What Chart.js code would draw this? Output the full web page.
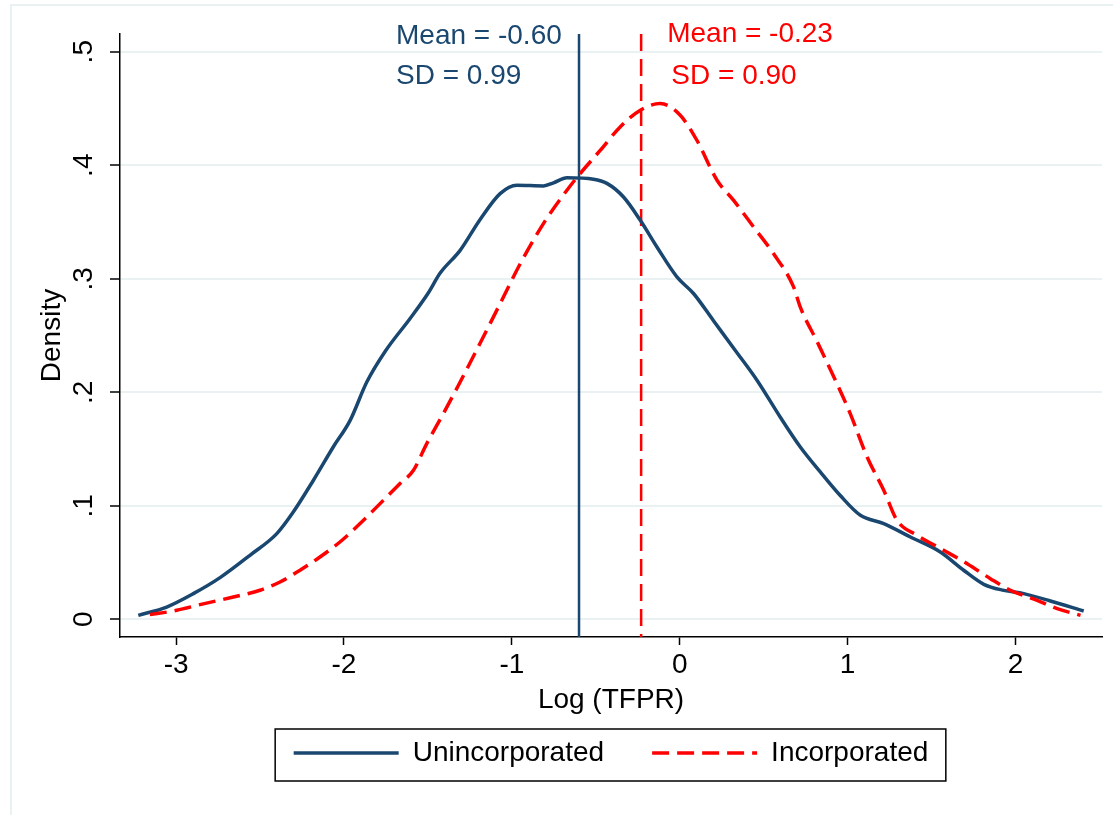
<!DOCTYPE html>
<html>
<head>
<meta charset="utf-8">
<script src="https://cdn.jsdelivr.net/npm/chart.js@4"></script>
<style>
  html, body { margin: 0; padding: 0; background: #fff; overflow: hidden; }
  #kdensity { position: absolute; left: 0; top: 0; }
  #frame {
    position: absolute; left: 10px; top: 4px; width: 1200px; height: 900px;
    border-left: 2px solid #e9f1f3; border-top: 2px solid #e9f1f3;
    pointer-events: none;
  }
</style>
</head>
<body>
<canvas id="kdensity" width="1113" height="815"></canvas>
<div id="frame"></div>
<script>
// kernel density of log TFPR
const unincX = [-3.225, -3.056, -2.897, -2.738, -2.56, -2.4, -2.302, -2.182, -2.063, -1.964,
  -1.864, -1.75, -1.606, -1.5, -1.427, -1.308, -1.19, -1.07, -0.97, -0.811,
  -0.752, -0.672, -0.514, -0.434, -0.335, -0.235, -0.136, -0.017, 0.082, 0.201,
  0.33, 0.46, 0.599, 0.718, 0.837, 0.956, 1.076, 1.215, 1.374, 1.552,
  1.691, 1.811, 1.93, 2.049, 2.208, 2.406];
const unincY = [0.0035, 0.0108, 0.0226, 0.0367, 0.0564, 0.0755, 0.0945, 0.1225, 0.152, 0.175,
  0.209, 0.237, 0.265, 0.287, 0.305, 0.325, 0.352, 0.375, 0.3824, 0.3818,
  0.3845, 0.389, 0.3877, 0.384, 0.372, 0.3515, 0.328, 0.3016, 0.287, 0.263,
  0.237, 0.2106, 0.178, 0.1518, 0.1298, 0.109, 0.0916, 0.0843, 0.0725, 0.0593,
  0.0432, 0.0308, 0.0255, 0.0226, 0.0161, 0.0073];

const incX = [-3.156, -2.996, -2.858, -2.659, -2.5, -2.381, -2.262, -2.143, -2.024, -1.904,
  -1.785, -1.666, -1.586, -1.507, -1.408, -1.318, -1.19, -1.07, -0.951, -0.812,
  -0.672, -0.593, -0.474, -0.355, -0.235, -0.116, 0.003, 0.102, 0.222, 0.321,
  0.44, 0.559, 0.678, 0.718, 0.82, 0.927, 1.016, 1.116, 1.215, 1.294,
  1.414, 1.572, 1.712, 1.85, 1.97, 2.129, 2.248, 2.387];
const incY = [0.0041, 0.0079, 0.0129, 0.0196, 0.0256, 0.0329, 0.0432, 0.0549, 0.0681, 0.0843,
  0.1019, 0.1196, 0.1313, 0.1548, 0.1812, 0.2062, 0.243, 0.278, 0.313, 0.3486,
  0.378, 0.3927, 0.413, 0.4337, 0.4485, 0.4543, 0.444, 0.422, 0.3868, 0.369,
  0.3456, 0.322, 0.2928, 0.275, 0.244, 0.2106, 0.181, 0.143, 0.1137, 0.0872,
  0.074, 0.0608, 0.049, 0.0358, 0.0255, 0.0167, 0.0094, 0.0035];

const seriesNames = ["Unincorporated", "Incorporated"];
const means = [-0.60, -0.23];

const xTicks = [-3, -2, -1, 0, 1, 2];
const yTicks = [0, 0.1, 0.2, 0.3, 0.4, 0.5];
const yTickLabels = ["0", ".1", ".2", ".3", ".4", ".5"];

// text notes placed in data units (left edge, baseline)
const noteText = ["Mean = -0.60", "SD = 0.99", "Mean = -0.23", "SD = 0.90"];
const noteX = [-1.69, -1.69, -0.075, -0.05];
const noteY = [0.5066, 0.4714, 0.5084, 0.4714];

const X_MIN = -3.334, X_MAX = 2.515;
const Y_MIN = -0.0156, Y_MAX = 0.5156;

const NAVY = "#1a476f";
const RED = "#ff0000";
const GRID = "#e9f1f3";
const FONT = "'Liberation Sans', Arial, Helvetica, sans-serif";
const noteColor = [NAVY, NAVY, RED, RED];

Chart.defaults.font.family = FONT;
Chart.defaults.font.size = 28;
Chart.defaults.color = "#000";

function toPoints(xs, ys) {
  return xs.map((x, i) => ({ x: x, y: ys[i] }));
}

const notesPlugin = {
  id: "notes",
  afterDatasetsDraw(chart) {
    const { ctx, scales } = chart;
    ctx.save();
    ctx.font = "28px " + FONT;
    ctx.textAlign = "left";
    ctx.textBaseline = "alphabetic";
    noteText.forEach((t, i) => {
      ctx.fillStyle = noteColor[i];
      ctx.fillText(t, scales.x.getPixelForValue(noteX[i]), scales.y.getPixelForValue(noteY[i]));
    });
    ctx.restore();
  },
};

// Stata puts a box round the legend; Chart.js does not
const legendFrame = {
  id: "legendFrame",
  afterDraw(chart) {
    const boxes = chart.legend.legendHitBoxes;
    if (!boxes || !boxes.length) return;
    const first = boxes[0];
    const last = boxes[boxes.length - 1];
    const ctx = chart.ctx;
    ctx.save();
    ctx.strokeStyle = "#000";
    ctx.lineWidth = 1.5;
    ctx.strokeRect(first.left - 18.5, first.top - 10,
      last.left + last.width - first.left + 36, first.height + 24);
    ctx.restore();
  },
};

// with usePointStyle the legend takes its style from the point, so put the line style back
function legendLabels(chart) {
  const items = Chart.defaults.plugins.legend.labels.generateLabels(chart);
  return items.map((item) => {
    const ds = chart.data.datasets[item.datasetIndex];
    item.lineDash = ds.borderDash || [];
    item.lineWidth = ds.borderWidth;
    item.strokeStyle = ds.borderColor;
    return item;
  });
}

new Chart(document.getElementById("kdensity"), {
  type: "line",
  data: {
    datasets: [
      {
        label: seriesNames[0],
        data: toPoints(unincX, unincY),
        borderColor: NAVY,
        borderWidth: 3.5,
        cubicInterpolationMode: "monotone",
        order: 2,
      },
      {
        label: seriesNames[1],
        data: toPoints(incX, incY),
        borderColor: RED,
        borderWidth: 3.5,
        borderDash: [17, 8],
        cubicInterpolationMode: "monotone",
        order: 1,
      },
      {
        label: "mean0",
        data: [{ x: means[0], y: Y_MAX }, { x: means[0], y: Y_MIN }],
        borderColor: NAVY,
        borderWidth: 2.5,
        order: 3,
      },
      {
        label: "mean1",
        data: [{ x: means[1], y: Y_MAX }, { x: means[1], y: Y_MIN }],
        borderColor: RED,
        borderWidth: 2.5,
        borderDash: [17, 8],
        order: 4,
      },
    ],
  },
  options: {
    responsive: false,
    animation: false,
    events: [],
    elements: {
      point: { radius: 0 },
      line: { tension: 0, fill: false },
    },
    layout: { padding: { top: 34, right: 11, bottom: 38, left: 0 } },
    scales: {
      x: {
        type: "linear",
        min: X_MIN,
        max: X_MAX,
        afterBuildTicks: (s) => { s.ticks = xTicks.map((v) => ({ value: v })); },
        afterFit: (s) => { s.height = 54; },
        grid: { drawOnChartArea: false, tickLength: 8, tickColor: "#000", tickWidth: 1.5 },
        border: { color: "#000", width: 1.5 },
        ticks: {
          autoSkip: false,
          maxRotation: 0,
          padding: 3,
          color: "#000",
          callback: (v) => String(v),
        },
        title: {
          display: true,
          text: "Log (TFPR)",
          color: "#000",
          padding: { top: 0, bottom: -26 },
        },
      },
      y: {
        type: "linear",
        min: Y_MIN,
        max: Y_MAX,
        afterBuildTicks: (s) => { s.ticks = yTicks.map((v) => ({ value: v })); },
        afterFit: (s) => { s.width = 120; },
        grid: { color: GRID, lineWidth: 2, tickLength: 10, tickColor: "#000", tickWidth: 1.5 },
        border: { color: "#000", width: 1.5 },
        ticks: {
          autoSkip: false,
          minRotation: 90,
          maxRotation: 90,
          crossAlign: "center",
          padding: 14,
          color: "#000",
          callback: (v, i) => yTickLabels[i],
        },
        title: {
          display: true,
          text: "Density",
          color: "#000",
          padding: { top: 35, bottom: 0 },
        },
      },
    },
    plugins: {
      tooltip: { enabled: false },
      legend: {
        position: "bottom",
        fullSize: false,
        labels: {
          generateLabels: legendLabels,
          filter: (item) => item.datasetIndex < 2,
          sort: (a, b) => a.datasetIndex - b.datasetIndex,
          usePointStyle: true,
          pointStyle: "line",
          pointStyleWidth: 105,
          padding: 48,
          color: "#000",
          font: { size: 28 },
        },
      },
    },
  },
  plugins: [notesPlugin, legendFrame],
});
</script>
</body>
</html>
